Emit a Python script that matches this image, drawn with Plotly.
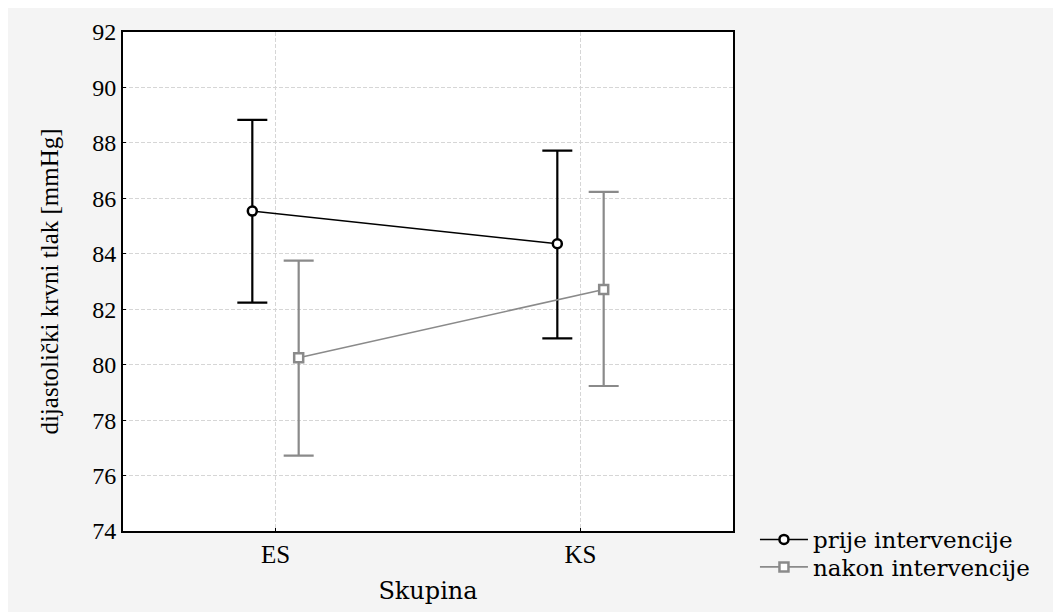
import plotly.graph_objects as go

categories = ["ES", "KS"]
series_names = ["prije intervencije", "nakon intervencije"]
prije_mean = [85.54, 84.36]
prije_upper = [88.83, 87.72]
prije_lower = [82.24, 80.95]
nakon_mean = [80.25, 82.71]
nakon_upper = [83.75, 86.23]
nakon_lower = [76.72, 79.23]
y_ticks = [74, 76, 78, 80, 82, 84, 86, 88, 90, 92]

offset = 0.076
cat_idx = list(range(len(categories)))
WIDE = "DejaVu Serif"
TIMES = "Liberation Serif"

fig = go.Figure()

def add_series(name, mean, up, lo, color, symbol, dx, lw, legend):
    fig.add_trace(go.Scatter(
        x=[i + dx for i in cat_idx], y=mean, name=name,
        mode="lines+markers", legend=legend,
        line=dict(color=color, width=lw),
        marker=dict(symbol=symbol, size=9, color="white",
                    line=dict(color=color, width=2.5)),
        error_y=dict(type="data", symmetric=False,
                     array=[u - m for u, m in zip(up, mean)],
                     arrayminus=[m - l for m, l in zip(mean, lo)],
                     color=color, thickness=2.2, width=15),
    ))

add_series(series_names[0], prije_mean, prije_upper, prije_lower, "black", "circle", -offset, 1.6, "legend")
add_series(series_names[1], nakon_mean, nakon_upper, nakon_lower, "#8a8a8a", "square", offset, 1.6, "legend2")

leg_common = dict(xanchor="left", yanchor="middle", bgcolor="rgba(0,0,0,0)",
                  font=dict(size=23, family=WIDE, color="black"), itemwidth=48)

fig.update_layout(
    width=1061, height=612,
    margin=dict(l=115, r=336, t=24, b=89),
    paper_bgcolor="#f4f4f4",
    plot_bgcolor="white",
    font=dict(family=TIMES, color="black", size=22),
    showlegend=True,
    legend=dict(x=1.036, y=-0.017, **leg_common),
    legend2=dict(x=1.036, y=-0.072, **leg_common),
    xaxis=dict(range=[-0.5, 1.5], tickmode="array", tickvals=cat_idx, ticktext=categories,
               showgrid=True, gridcolor="#d6d6d6", griddash="4px,2px", gridwidth=1,
               showline=True, linecolor="black", linewidth=2, mirror=True,
               ticks="inside", ticklen=3, tickcolor="black", zeroline=False,
               ticklabelstandoff=0,
               title=dict(text="Skupina", font=dict(size=24, family=WIDE), standoff=15),
               tickfont=dict(size=25, family=TIMES)),
    yaxis=dict(range=[74, 92], tickmode="array", tickvals=y_ticks,
               showgrid=True, gridcolor="#d6d6d6", griddash="4px,2px", gridwidth=1,
               showline=True, linecolor="black", linewidth=2, mirror=True,
               ticks="inside", ticklen=3, tickcolor="black", zeroline=False,
               title=dict(text="dijastolički krvni tlak [mmHg]", font=dict(size=25, family=TIMES), standoff=26),
               tickfont=dict(size=24, family=TIMES)),
)

fig.write_html("out.html")
